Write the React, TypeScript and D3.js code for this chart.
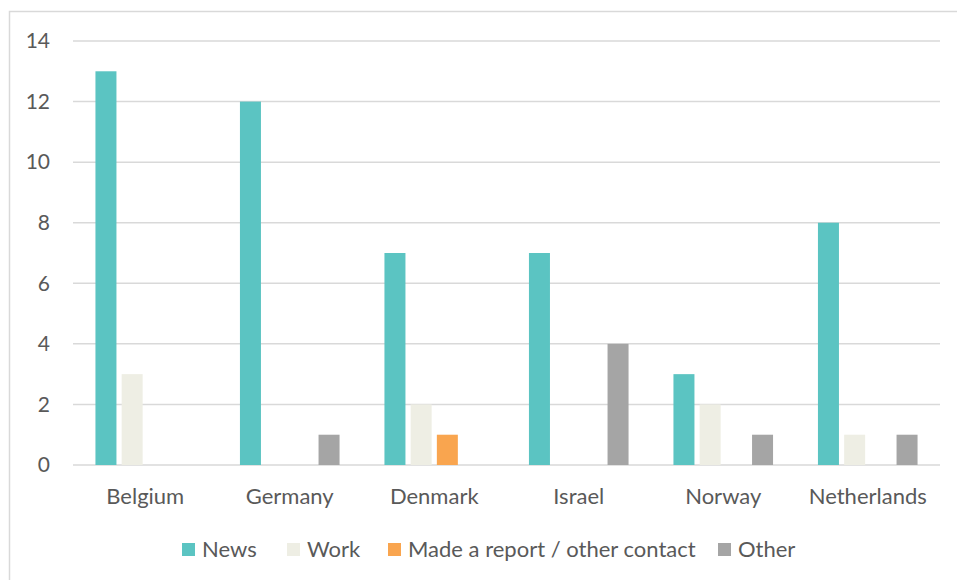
import React from "react";
import * as d3 from "d3";

const categories = ["Belgium", "Germany", "Denmark", "Israel", "Norway", "Netherlands"];
const seriesNames = ["News", "Work", "Made a report / other contact", "Other"];
const news = [13, 12, 7, 7, 3, 8];
const work = [3, 0, 2, 0, 2, 1];
const report = [0, 0, 1, 0, 0, 0];
const other = [0, 1, 0, 4, 1, 1];
const yTicks = [0, 2, 4, 6, 8, 10, 12, 14];
const colors = ["#5BC4C2", "#EEEEE4", "#F9A54F", "#A5A5A5"];

const W = 957;
const H = 580;
const FONT = "Lato, 'Open Sans', sans-serif";

export default function App() {
  const series = [news, work, report, other];
  const x0 = d3.scaleBand<string>().domain(categories).range([73, 940]).paddingInner(0).paddingOuter(0);
  const y = d3.scaleLinear().domain([0, 14]).range([465, 41]);
  const barW = 21;
  const step = 26.2;
  const groupW = step * 3 + barW;
  const offset = (x0.bandwidth() - groupW) / 2;

  const legendX = [182, 287, 388, 718];

  return (
    <svg
      width={W}
      height={H}
      style={{ position: "absolute", left: 0, top: 0, background: "#fff" }}
      fontFamily={FONT}
    >
      <rect x={9.5} y={11.5} width={W + 10} height={H + 10} fill="#fff" stroke="#D9D9D9" strokeWidth={1.5} />
      {yTicks.map((t) => (
        <g key={t}>
          <line x1={73} x2={940} y1={y(t)} y2={y(t)} stroke="#D9D9D9" strokeWidth={1.5} />
          <text x={50} y={y(t)} dy="0.35em" textAnchor="end" fontSize={21} fill="#595959">
            {t}
          </text>
        </g>
      ))}
      {categories.map((c, i) => (
        <g key={c}>
          {series.map((s, k) =>
            s[i] > 0 ? (
              <rect
                key={k}
                x={(x0(c) as number) + offset + k * step}
                y={y(s[i])}
                width={barW}
                height={y(0) - y(s[i])}
                fill={colors[k]}
              />
            ) : null
          )}
          <text
            x={(x0(c) as number) + x0.bandwidth() / 2}
            y={504}
            textAnchor="middle"
            fontSize={22}
            fill="#595959"
          >
            {c}
          </text>
        </g>
      ))}
      {seriesNames.map((n, k) => (
        <g key={n}>
          <rect x={legendX[k]} y={543} width={13} height={13} fill={colors[k]} />
          <text x={legendX[k] + 20} y={557} fontSize={22} fill="#595959">
            {n}
          </text>
        </g>
      ))}
    </svg>
  );
}
